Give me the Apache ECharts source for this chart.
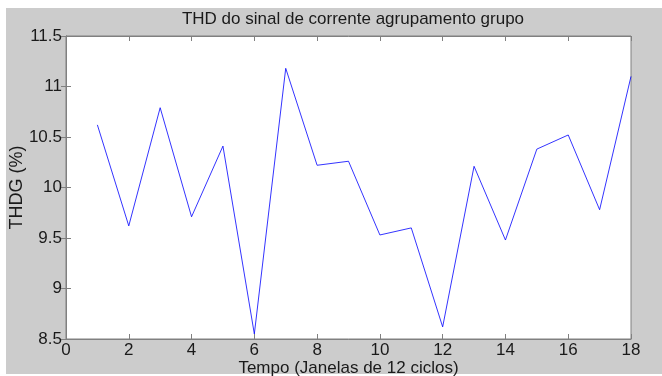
<!DOCTYPE html>
<html>
<head>
<meta charset="utf-8">
<script src="https://cdn.jsdelivr.net/npm/echarts@6/dist/echarts.min.js"></script>
<style>
  html, body { margin: 0; padding: 0; background: #ffffff; }
  #chart { width: 662px; height: 376px; }
</style>
</head>
<body>
<div id="chart"></div>
<script>
// Janela index (x) and THDG values (%) per window of 12 cycles
const janelas = [1, 2, 3, 4, 5, 6, 7, 8, 9, 10, 11, 12, 13, 14, 15, 16, 17, 18];
const thdg = [10.62, 9.62, 10.79, 9.71, 10.41, 8.55, 11.18, 10.22, 10.26, 9.53, 9.60, 8.62, 10.21, 9.48, 10.38, 10.52, 9.78, 11.10];

const titulo = 'THD do sinal de corrente agrupamento grupo';
const rotuloX = 'Tempo (Janelas de 12 ciclos)';
const rotuloY = 'THDG (%)';

const fonte = 'Arial, "Liberation Sans", sans-serif';
const corEixo = '#808080';
const corTexto = '#1a1a1a';

const chart = echarts.init(document.getElementById('chart'), null, { renderer: 'canvas' });

const eixoBase = {
  type: 'value',
  axisLine: { show: true, lineStyle: { color: corEixo, width: 1 } },
  axisTick: { show: true, inside: true, length: 5, lineStyle: { color: corEixo } },
  splitLine: { show: false }
};

chart.setOption({
  backgroundColor: '#ffffff',
  animation: false,
  graphic: [{
    type: 'rect',
    z: -10,
    shape: { x: 6, y: 8, width: 656, height: 366 },
    style: { fill: '#cccccc' }
  }],
  title: {
    text: titulo,
    left: 348,
    top: 6,
    textAlign: 'center',
    textStyle: { fontFamily: fonte, fontSize: 17, fontWeight: 'normal', color: corTexto }
  },
  grid: {
    left: 66, top: 36, right: 31, bottom: 37,
    containLabel: false,
    outerBoundsMode: 'none',
    show: true, backgroundColor: '#ffffff', borderColor: corEixo, borderWidth: 1
  },
  xAxis: [
    Object.assign({}, eixoBase, {
      position: 'bottom', min: 0, max: 18, interval: 2,
      name: rotuloX, nameLocation: 'middle', nameGap: 21, nameMoveOverlap: false,
      nameTextStyle: { fontFamily: fonte, fontSize: 17, color: corTexto },
      axisLabel: { fontFamily: fonte, fontSize: 17, color: corTexto, margin: 3 }
    }),
    Object.assign({}, eixoBase, {
      position: 'top', min: 0, max: 18, interval: 2,
      axisLabel: { show: false }
    })
  ],
  yAxis: [
    Object.assign({}, eixoBase, {
      position: 'left', min: 8.5, max: 11.5, interval: 0.5,
      name: rotuloY, nameLocation: 'middle', nameGap: 40, nameMoveOverlap: false,
      nameTextStyle: { fontFamily: fonte, fontSize: 18, color: corTexto },
      axisLabel: { fontFamily: fonte, fontSize: 17, color: corTexto, margin: 4 }
    }),
    Object.assign({}, eixoBase, {
      position: 'right', min: 8.5, max: 11.5, interval: 0.5,
      axisLabel: { show: false }
    })
  ],
  series: [{
    type: 'line',
    data: janelas.map((j, i) => [j, thdg[i]]),
    xAxisIndex: 0,
    yAxisIndex: 0,
    showSymbol: false,
    lineStyle: { color: '#0000ff', width: 0.8 }
  }]
});
</script>
</body>
</html>
